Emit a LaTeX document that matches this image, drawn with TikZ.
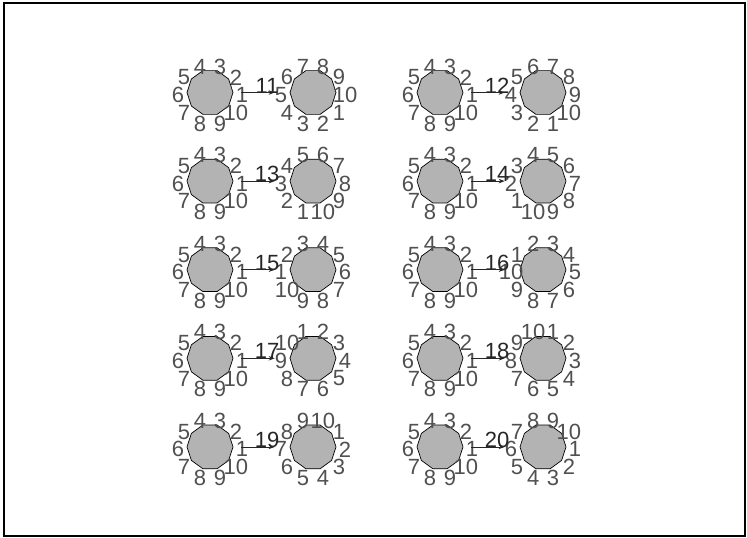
\documentclass[tikz,border=0pt]{standalone}
\usepackage{fontspec}
\setmainfont{Liberation Sans}
\usepackage{tikz}
\usetikzlibrary{shapes.geometric, arrows.meta, calc}
\definecolor{decafill}{HTML}{B3B3B3}
\definecolor{portgray}{HTML}{505050}
\definecolor{edgegray}{HTML}{262626}
\tikzset{
  deca/.style={
    regular polygon, regular polygon sides=10, draw=black, fill=decafill,
    minimum size=46pt, inner sep=0pt, line width=0.7pt
  },
  portlbl/.style={
    inner sep=0pt, text=portgray, font=\fontsize{22}{24}\selectfont
  },
  edgelbl/.style={
    inner sep=0pt, text=edgegray, font=\fontsize{22}{24}\selectfont
  },
  link/.style={-{Stealth[length=6pt, width=4.5pt]}, draw=edgegray, line width=0.7pt,
    shorten <=8pt, shorten >=15pt},
}

\begin{document}
\begin{tikzpicture}[x=1pt, y=-1pt]
\useasboundingbox (0,0) rectangle (747,538);
\draw[line width=1.5pt] (4,3) rectangle (745,536);

% ten pairs, two columns, five rows
\foreach \n [count=\i from 0] in {11,...,20} {
  \pgfmathtruncatemacro\col{mod(\i,2)}
  \pgfmathtruncatemacro\row{div(\i,2)}
  \pgfmathtruncatemacro\k{mod(5-\i+10,10)}
  \pgfmathsetmacro\x{210+230*\col}
  \pgfmathsetmacro\y{92.5+88.6*\row}
  \node[deca] (L\n) at (\x,\y) {};
  \node[deca] (R\n) at (\x+103,\y) {};
  % vertex labels (y grows downward, so angles are negated)
  \foreach \j in {1,...,10} {
    \pgfmathsetmacro\a{-36*(\j-1)}
    \pgfmathsetmacro\b{-180+36*(\j-\k)}
    \node[portlbl] (L\n p\j) at ($(L\n.center)+(\a:32 and 30)+(0,2.5)$) {\j};
    \node[portlbl] (R\n p\j) at ($(R\n.center)+(\b:32 and 30)+(0,2.5)$) {\j};
  }
  \draw[link] (L\n.east) -- (R\n.west)
    node[edgelbl, pos=0.6, anchor=south, yshift=-1pt] (E\n) {\n};
}

\end{tikzpicture}
\end{document}
